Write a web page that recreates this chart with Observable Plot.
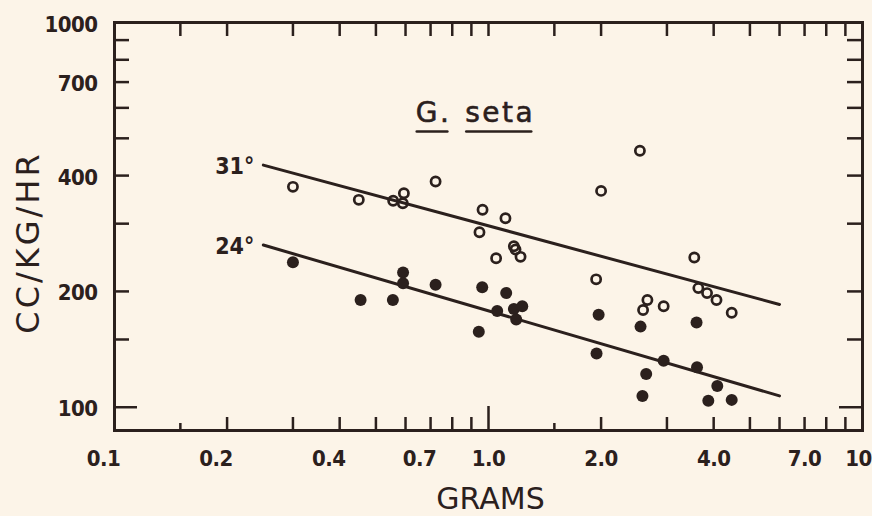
<!DOCTYPE html>
<html>
<head>
<meta charset="utf-8">
<script src="https://cdn.jsdelivr.net/npm/d3@7"></script>
<script src="https://cdn.jsdelivr.net/npm/@observablehq/plot@0.6"></script>
<style>
  html, body { margin: 0; padding: 0; background: #fcf4e8; }
  #chart svg { display: block; }
  .ylab text { letter-spacing: 3px; }
  .species-title text { letter-spacing: 2.5px; }
  .ticklab text { letter-spacing: -0.5px; }
</style>
</head>
<body>
<div id="chart"></div>
<script>
// ---- data ----
// 31° series (open circles): body weight (g) and metabolic rate (cc/kg/hr)
const grams31 = [0.30, 0.45, 0.556, 0.594, 0.590, 0.722, 0.964, 0.946, 1.11, 1.169, 1.181, 1.218, 1.048,
                 2.54, 2.00, 1.94, 3.55, 2.66, 2.59, 2.94, 3.64, 3.84, 4.07, 4.47];
const rate31  = [374, 346, 344, 360, 339, 386, 326, 285, 310, 262, 257, 246, 244,
                 464, 365, 215, 245, 190, 179, 183, 204, 198, 190, 176];
// 24° series (filled circles)
const grams24 = [0.30, 0.455, 0.555, 0.591, 0.591, 0.722, 0.962, 0.942, 1.115, 1.055, 1.169, 1.231, 1.186,
                 1.97, 1.945, 2.55, 2.64, 2.58, 2.94, 3.60, 3.61, 4.09, 3.87, 4.47];
const rate24  = [238, 190, 190, 224, 210, 208, 205, 157, 198, 178, 180, 183, 169,
                 174, 138, 162, 122, 107, 132, 166, 127, 113.5, 104, 104.5];
// fitted regression lines (endpoints)
const fitGrams = [0.25, 6.0];
const fit31 = [426, 185];
const fit24 = [264, 107];
const lineLabels = ["31°", "24°"];

// axis ticks and labels
const xMinorTicks = [0.2, 0.3, 0.4, 0.5, 0.6, 0.7, 0.8, 0.9, 2, 3, 4, 5, 6, 7, 8, 9];
const xTinyTicks = [0.15, 1.5];
const xMajorTicks = [1];
const xLabelValsA = [0.1, 0.2, 0.4, 0.7];
const xLabelsA = ["0.1", "0.2", "0.4", "0.7"];
const xLabelValsB = [1, 2, 4, 7];
const xLabelsB = ["1.0", "2.0", "4.0", "7.0"];
const xLabelValsC = [10];
const xLabelsC = ["10"];
const yMinorTicks = [150, 200, 300, 400, 500, 600, 700, 800, 900];
const yMajorTicks = [100];
const yLabelVals = [100, 200, 400, 700, 1000];
const yLabels = ["100", "200", "400", "700", "1000"];
const titleParts = ["G.", "seta"];
const titleGrams = [0.713, 1.075];
const titleRate = [580, 580];

// ---- layout ----
const W = 872, H = 516;
const mL = 114, mR = 10, mT = 22, mB = 86;
const plotW = W - mL - mR, plotH = H - mT - mB;
const ink = "#2b201d";
const bg = "#fcf4e8";
const tickFont = "'DejaVu Sans Condensed', 'DejaVu Sans', sans-serif";
const tickText = {fontFamily: tickFont, fontWeight: "bold", fontSize: 22, fill: ink, className: "ticklab"};

const pts31 = grams31.map((g, i) => ({g, r: rate31[i]}));
const pts24 = grams24.map((g, i) => ({g, r: rate24[i]}));
const line31 = fitGrams.map((g, i) => ({g, r: fit31[i]}));
const line24 = fitGrams.map((g, i) => ({g, r: fit24[i]}));
const lblPts = [{g: fitGrams[0], r: fit31[0], t: lineLabels[0]}, {g: fitGrams[0], r: fit24[0], t: lineLabels[1]}];
const titlePts = titleParts.map((t, i) => ({t, g: titleGrams[i], r: titleRate[i]}));

const chart = Plot.plot({
  width: W, height: H,
  marginLeft: mL, marginRight: mR, marginTop: mT, marginBottom: mB,
  style: {background: bg, color: ink, overflow: "visible"},
  x: {type: "log", domain: [0.1, 10], axis: null},
  y: {type: "log", domain: [87, 1000], axis: null},
  marks: [
    // inward ticks: bottom
    Plot.tickX(xMinorTicks, {x: d => d, stroke: ink, strokeWidth: 2.5, insetTop: plotH - 13}),
    Plot.tickX(xTinyTicks, {x: d => d, stroke: ink, strokeWidth: 2.5, insetTop: plotH - 7}),
    Plot.tickX(xMajorTicks, {x: d => d, stroke: ink, strokeWidth: 2.5, insetTop: plotH - 24}),
    // top
    Plot.tickX(xMinorTicks.concat(xTinyTicks, xMajorTicks), {x: d => d, stroke: ink, strokeWidth: 2.5, insetBottom: plotH - 14}),
    // left
    Plot.tickY(yMinorTicks, {y: d => d, stroke: ink, strokeWidth: 2.5, insetRight: plotW - 15}),
    Plot.tickY(yMajorTicks, {y: d => d, stroke: ink, strokeWidth: 2.5, insetRight: plotW - 23}),
    // right
    Plot.tickY(yMinorTicks, {y: d => d, stroke: ink, strokeWidth: 2.5, insetLeft: plotW - 15}),
    Plot.tickY(yMajorTicks, {y: d => d, stroke: ink, strokeWidth: 2.5, insetLeft: plotW - 23}),
    Plot.frame({stroke: ink, strokeWidth: 3}),
    // tick labels
    Plot.text(xLabelValsA, {x: d => d, text: (d, i) => xLabelsA[i], frameAnchor: "bottom", lineAnchor: "middle",
      textAnchor: "middle", dy: 28, dx: -11, ...tickText}),
    Plot.text(xLabelValsB, {x: d => d, text: (d, i) => xLabelsB[i], frameAnchor: "bottom", lineAnchor: "middle",
      textAnchor: "middle", dy: 28, ...tickText}),
    Plot.text(xLabelValsC, {x: d => d, text: (d, i) => xLabelsC[i], frameAnchor: "bottom", lineAnchor: "middle",
      textAnchor: "middle", dy: 28, dx: -4, ...tickText}),
    Plot.text(yLabelVals, {y: d => d, text: (d, i) => yLabels[i], frameAnchor: "left", lineAnchor: "middle",
      dx: -17, dy: 2, textAnchor: "end", ...tickText}),
    // axis titles
    Plot.text(["GRAMS"], {frameAnchor: "bottom", lineAnchor: "middle", textAnchor: "middle", dy: 69, dx: 2,
      fontFamily: "'DejaVu Sans', sans-serif", fontSize: 30, fill: ink}),
    Plot.text(["CC/KG/HR"], {frameAnchor: "left", lineAnchor: "middle", textAnchor: "middle", rotate: -90, dx: -86, dy: 16,
      fontFamily: "'DejaVu Sans', sans-serif", fontSize: 32, fill: ink, className: "ylab"}),
    // regression lines
    Plot.line(line31, {x: "g", y: "r", stroke: ink, strokeWidth: 3}),
    Plot.line(line24, {x: "g", y: "r", stroke: ink, strokeWidth: 3}),
    Plot.text(lblPts, {x: "g", y: "r", text: "t", textAnchor: "end", dx: -9, dy: 2,
      fontFamily: tickFont, fontWeight: "bold", fontSize: 23, fill: ink}),
    // points
    Plot.dot(pts31, {x: "g", y: "r", r: 4.6, stroke: ink, strokeWidth: 2.7, fill: "none"}),
    Plot.dot(pts24, {x: "g", y: "r", r: 6, fill: ink, stroke: "none"}),
    // species title
    Plot.text(titlePts, {x: "g", y: "r", text: "t", fontFamily: "'DejaVu Sans', sans-serif", fontSize: 28,
      fill: ink, stroke: ink, strokeWidth: 0.6, className: "species-title"})
  ]
});

document.getElementById("chart").appendChild(chart);

// underline each part of the species name, sized from the rendered text
const svgEl = chart.tagName.toLowerCase() === "svg" ? chart : chart.querySelector("svg");
const svg = d3.select(svgEl);
const rootM = svgEl.getScreenCTM();
svg.selectAll(".species-title text").each(function () {
  const b = this.getBBox();
  const m = this.getScreenCTM();
  const tx = m.e - rootM.e, ty = m.f - rootM.f;
  const yLine = ty + b.y + b.height + 2;
  svg.append("line")
    .attr("x1", tx + b.x + 1).attr("x2", tx + b.x + b.width - 4)
    .attr("y1", yLine).attr("y2", yLine)
    .attr("stroke", ink).attr("stroke-width", 2.6).attr("stroke-linecap", "round");
});
</script>
</body>
</html>
